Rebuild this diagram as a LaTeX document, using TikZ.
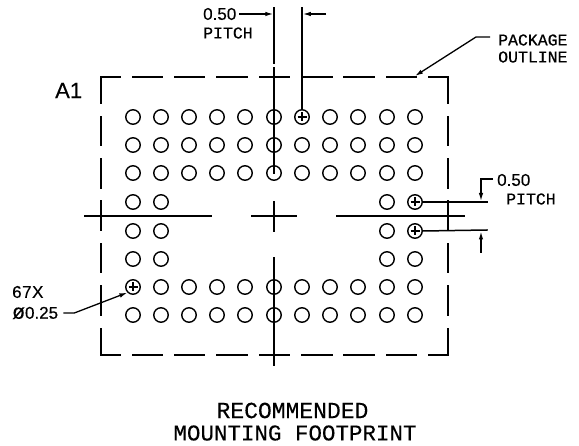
\documentclass[tikz,border=0pt]{standalone}
\usepackage{fontspec}
\setmainfont[FakeBold=0.3]{Liberation Sans}
\newfontfamily\cadfont[FakeBold=0.5]{Liberation Mono}
\newfontfamily\titlefont[FakeBold=0.2]{Liberation Mono}
\usetikzlibrary{arrows.meta,positioning,calc}
\tikzset{
  basic/.style   = {line width=1.5pt, line cap=rect},
  leader/.style  = {->, line width=1.3pt},
  pad/.style     = {circle, draw, line width=1.4pt, inner sep=0pt, minimum size=14.5pt},
  outline/.style = {basic, dash pattern=on 30pt off 12.35pt},
  sideline/.style = {basic, dash pattern=on 29pt off 13.4pt, dash phase=3pt},
  note/.style    = {inner sep=0pt, anchor=west, font=\fontsize{17}{18}\selectfont},
  caps/.style    = {inner sep=0pt, anchor=west, font=\cadfont\fontsize{16.5}{17}\selectfont},
  title/.style   = {inner sep=0pt, font=\titlefont\fontsize{22.5}{23}\selectfont}
}

\begin{document}
\begin{tikzpicture}[x=1pt, y=-1pt, >={Latex[length=8pt,width=4.5pt]}]
\useasboundingbox (0,0) rectangle (579,446);

% full rows of pads, top and bottom
\foreach \r/\y in {1/117,2/145,3/173,7/287,8/315}
  \foreach \c/\x in {1/133,2/161,3/189,4/217,5/245,6/274,7/302,8/330,9/358,10/387,11/415}
    \node[pad] (p\r-\c) at (\x,\y) {};

% short rows in the middle
\foreach \r/\y in {4/202,5/231,6/259}
  \foreach \c/\x in {1/133,2/161,10/387,11/415}
    \node[pad] (p\r-\c) at (\x,\y) {};

% pads with a cross
\foreach \p in {p1-7,p4-11,p5-11,p7-1} {
  \draw[line width=1.2pt] ($(\p)+(-4.5,0)$) -- ($(\p)+(4.5,0)$);
  \draw[line width=1.2pt] ($(\p)+(0,-4.5)$) -- ($(\p)+(0,4.5)$);
}

% package outline
\draw[outline, dash phase=11pt] (101,77) -- (448,77);
\draw[outline, dash phase=11pt] (101,355) -- (448,355);
\draw[sideline] (101,77) -- (101,355);
\draw[sideline] (448,77) -- (448,355);

% center lines
\draw[basic] (85,216) -- (211,216);
\draw[basic] (337,216) -- (464,216);
\draw[basic] (252,216) -- (296,216);
\draw[basic] (274,202) -- (274,231);
\draw[basic] (274,68) -- (p3-6.center);
\draw[basic] (274,258) -- (274,365);

% top pitch
\coordinate (t1) at (274,8);
\coordinate (t2) at (302,8);
\coordinate (t3) at (274,63);
\draw[basic] (t1) -- (t3);
\draw[basic] (t2) -- (p1-7.north);
\node[note] (pitchA) at (203,14) {0.50};
\node[caps] (pitchB) at (203,33) {PITCH};
\draw[leader] (pitchA.east) ++(3,0) -- (273.3,14);
\draw[leader] (326,14) -- (302.8,14);

% package outline note
\node[caps] (pkgA) at (498,40) {PACKAGE};
\node[caps] (pkgB) at (498,57) {OUTLINE};
\coordinate (pkgEnd) at (415,76);
\draw[leader] (pkgA.west) ++(-8,-3) -- ++(-14,0) -- (pkgEnd);

% A1 mark
\node[note, font=\fontsize{22}{23}\selectfont] (mark) at (55,90.5) {A1};

% right pitch
\coordinate (r1) at (487,202);
\coordinate (r2) at (487,230);
\draw[basic] (p4-11.east) -- (r1);
\draw[basic] (p5-11.east) -- (r2);
\node[note] (pitchC) at (497,180) {0.50};
\node[caps] (pitchD) at (506,199) {PITCH};
\draw[leader] (pitchC.west) ++(-4,-1) -| (481,201);
\draw[leader] (481,253) -- (481,231.5);

% pad count note
\node[note] (countA) at (12,292) {\addfontfeature{LetterSpace=3}67X};
\node[note] (countB) at (12,313) {{\fontsize{21}{21}\selectfont ø}0.25};
\draw[leader] (countB.east) ++(5,0) -- ++(11,0) -- (p7-1.south west);

% title
\node[title] (titleA) at (292.5,410.5) {\fontsize{23}{24}\selectfont RECOMMENDED};
\node[title] (titleB) at (295,433) {MOUNTING FOOTPRINT};
\end{tikzpicture}
\end{document}
